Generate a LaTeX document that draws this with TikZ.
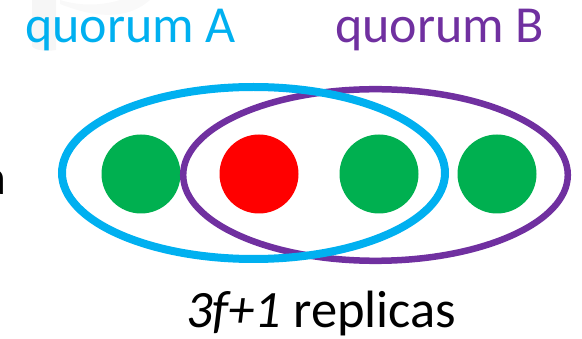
\documentclass[tikz,border=0pt]{standalone}
\usepackage{fontspec}
\setmainfont{Carlito}
\usetikzlibrary{shapes.geometric}
\definecolor{qblue}{HTML}{00B0F0}
\definecolor{qpurple}{HTML}{7030A0}
\definecolor{rgreen}{HTML}{00B050}
\definecolor{rred}{HTML}{FF0000}
\begin{document}
\begin{tikzpicture}[x=1pt,y=1pt,
  replica/.style={circle,inner sep=0pt,minimum size=79pt},
  quorum/.style={ellipse,inner sep=0pt},
  lbl/.style={inner sep=0pt,anchor=base west}]
\useasboundingbox (0,0) rectangle (582,-339);
% faint watermark remnant
\fill[gray!7] (32,0) -- (56,0) -- (56,-50) .. controls (45,-52) and (34,-50) .. (32,-46) -- cycle;
\fill[gray!5] (60,-4) .. controls (100,-20) and (130,-18) .. (150,0) -- (120,0) .. controls (100,-6) and (80,-6) .. (60,0) -- cycle;
\node[lbl,font=\fontsize{52}{60}\selectfont,text=qblue] (qa) at (25,-43) {quorum A};
\node[lbl,font=\fontsize{52}{60}\selectfont,text=qpurple] (qb) at (335,-43) {quorum B};
\node[inner sep=0pt,anchor=base east,font=\fontsize{50}{60}\selectfont] (cut) at (7,-195) {a};
\node[replica,fill=rgreen] (r1) at (141,-174) {};
\node[replica,fill=rred] (r2) at (259,-174) {};
\node[replica,fill=rgreen] (r3) at (379,-174) {};
\node[replica,fill=rgreen] (r4) at (497,-174) {};
\node[quorum,draw=qpurple,line width=6.5pt,minimum width=384.6pt,minimum height=171.6pt] (eb) at (375.5,-175) {};
\node[quorum,draw=qblue,line width=8pt,minimum width=383pt,minimum height=172pt] (ea) at (253.5,-173) {};
\node[lbl,font=\fontsize{52.5}{60}\selectfont] (rep) at (186,-328) {\textit{3f+1} replicas};
\end{tikzpicture}
\end{document}
